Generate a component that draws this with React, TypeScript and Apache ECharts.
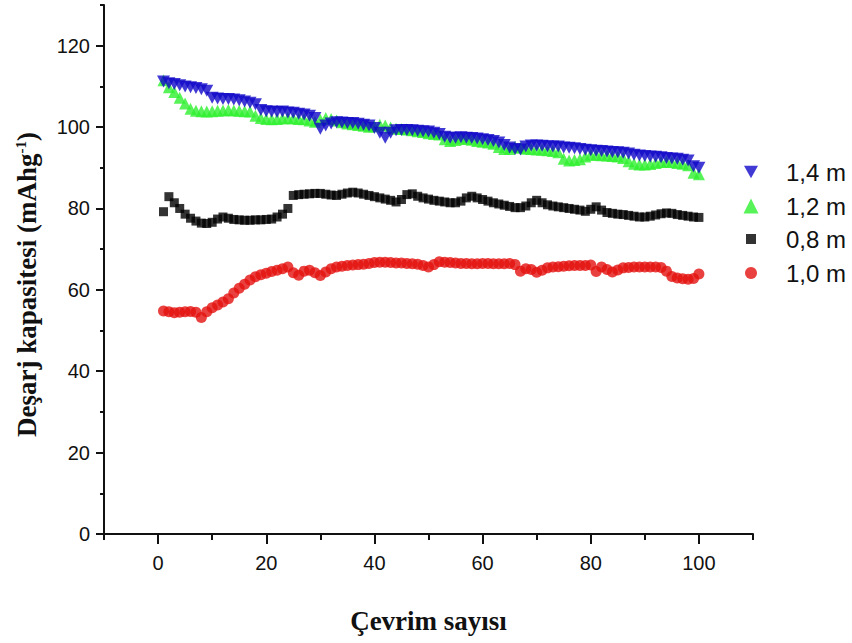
import React, { useEffect, useRef } from "react";
import * as echarts from "echarts";

// Cycle numbers shared by every series
const cycles: number[] = Array.from({ length: 100 }, (_, i) => i + 1);

// Discharge capacity (mAh g^-1) per cycle
const cap14: number[] = [
  111.2, 110.8, 110.6, 110.3, 110.0, 109.8, 109.6, 109.3, 108.9, 107.2,
  107.0, 106.9, 106.9, 106.8, 106.6, 106.3, 106.0, 105.6, 104.2, 103.9,
  103.8, 103.7, 103.8, 103.6, 103.5, 103.3, 103.1, 102.8, 102.2, 99.6,
  100.4, 100.9, 101.2, 101.1, 101.0, 101.0, 100.8, 100.6, 100.4, 99.8,
  98.6, 97.4, 98.6, 99.2, 99.3, 99.3, 99.2, 99.1, 99.0, 98.9,
  98.6, 98.3, 97.6, 97.4, 97.4, 97.5, 97.4, 97.3, 97.2, 97.0,
  96.8, 96.6, 96.2, 95.6, 95.0, 94.6, 94.5, 95.2, 95.5, 95.5,
  95.4, 95.3, 95.2, 95.2, 95.0, 94.9, 94.8, 94.6, 94.4, 94.3,
  94.2, 94.1, 94.0, 93.9, 93.8, 93.7, 93.5, 93.2, 93.0, 92.9,
  92.8, 92.7, 92.6, 92.4, 92.3, 92.2, 92.0, 91.8, 90.4, 90.0,
];

const cap12: number[] = [
  111.5, 109.8, 108.6, 107.2, 105.8, 104.5, 104.0, 103.9, 103.8, 103.9,
  104.0, 104.1, 104.2, 104.1, 104.0, 103.9, 103.8, 102.8, 102.2, 102.0,
  101.9, 102.0, 102.1, 102.2, 102.1, 102.0, 101.9, 101.6, 101.3, 101.8,
  102.2, 102.0, 101.6, 101.2, 100.9, 100.7, 100.5, 100.3, 100.1, 100.2,
  100.6, 100.4, 99.9, 99.6, 99.5, 99.4, 99.2, 99.0, 98.8, 98.5,
  98.3, 98.2, 97.0, 96.6, 96.8, 97.2, 97.1, 96.9, 96.6, 96.4,
  96.2, 95.9, 95.1, 94.6, 94.6, 95.1, 94.9, 94.7, 94.6, 94.5,
  94.4, 94.3, 94.1, 93.8, 92.2, 91.8, 91.9, 92.1, 92.8, 93.2,
  93.2, 93.1, 93.0, 92.9, 92.8, 92.4, 91.6, 91.0, 90.8, 90.8,
  90.9, 91.2, 91.4, 91.5, 91.4, 91.2, 91.0, 90.6, 88.8, 88.4,
];

const cap08: number[] = [
  79.2, 82.9, 81.4, 80.0, 78.6, 77.6, 76.9, 76.4, 76.3, 76.6,
  77.4, 77.9, 77.6, 77.3, 77.2, 77.1, 77.1, 77.2, 77.2, 77.3,
  77.4, 77.9, 78.6, 80.0, 83.2, 83.4, 83.5, 83.6, 83.7, 83.7,
  83.5, 83.3, 83.2, 83.5, 83.8, 84.0, 83.8, 83.5, 83.2, 82.9,
  82.6, 82.3, 82.0, 81.6, 82.2, 83.4, 83.6, 83.0, 82.6, 82.3,
  82.0, 81.8, 81.6, 81.4, 81.4, 81.8, 82.6, 83.0, 82.6, 82.2,
  81.8, 81.4, 81.1, 80.8, 80.5, 80.2, 80.2, 80.6, 81.4, 82.0,
  81.4, 80.9, 80.6, 80.4, 80.2, 80.0, 79.8, 79.6, 79.3, 79.8,
  80.4, 79.6, 79.0, 78.8, 78.6, 78.5, 78.3, 78.1, 77.9, 77.9,
  78.1, 78.4, 78.7, 78.9, 78.8, 78.5, 78.3, 78.1, 77.9, 77.8,
];

const cap10: number[] = [
  54.8, 54.6, 54.4, 54.5, 54.6, 54.7, 54.5, 53.2, 54.6, 55.6,
  56.3, 57.0, 57.8, 59.2, 60.4, 61.4, 62.4, 63.2, 63.7, 64.1,
  64.5, 64.8, 65.2, 65.6, 64.2, 63.6, 64.6, 64.8, 64.2, 63.5,
  64.4, 65.2, 65.6, 65.8, 66.0, 66.1, 66.2, 66.3, 66.5, 66.7,
  66.8, 66.8, 66.7, 66.6, 66.6, 66.5, 66.4, 66.3, 66.0, 65.6,
  66.2, 66.9, 66.8, 66.7, 66.6, 66.5, 66.5, 66.4, 66.4, 66.5,
  66.5, 66.4, 66.4, 66.4, 66.5, 66.2, 64.6, 65.2, 65.0, 64.3,
  64.8, 65.4, 65.6, 65.7, 65.8, 65.9, 66.0, 66.0, 66.0, 66.1,
  64.5, 65.6, 65.0, 64.4, 64.9, 65.4, 65.5, 65.6, 65.6, 65.6,
  65.6, 65.6, 65.5, 64.6, 63.3, 62.9, 62.7, 62.6, 62.8, 63.9,
];

// Labelled (major) and unlabelled (minor) tick positions
const xMajorTicks: number[] = [0, 20, 40, 60, 80, 100];
const xMinorTicks: number[] = [-10, 10, 30, 50, 70, 90, 110];
const yMajorTicks: number[] = [0, 20, 40, 60, 80, 100, 120];
const yMinorTicks: number[] = [10, 30, 50, 70, 90, 110, 130];

const seriesNames = ["1,4 m", "1,2 m", "0,8 m", "1,0 m"];

const DOWN_TRIANGLE = "path://M0,0L10,0L5,9Z";
const SANS = "Liberation Sans, Arial, sans-serif";
const SERIF = "Liberation Serif, Times New Roman, serif";
const INK = "#111111";

const pairs = (vals: number[]) => cycles.map((c, i) => [c, vals[i]]);

function legendRow(name: string, icon: string, size: number, centerY: number) {
  const left = 746 - size / 2;
  const textStart = 781;
  return {
    show: true,
    orient: "horizontal",
    left,
    top: centerY - 18,
    itemWidth: size,
    itemHeight: size,
    selectedMode: false,
    data: [{ name, icon }],
    textStyle: {
      fontFamily: SANS,
      fontSize: 24,
      color: INK,
      padding: [0, 0, 0, textStart - (left + size + 5)],
    },
  };
}

// An extra axis sharing the grid, used only to draw one set of tick marks
function tickAxis(min: number, max: number, position: string, values: number[], length: number) {
  return {
    type: "value",
    min,
    max,
    position,
    z: 10,
    splitLine: { show: false },
    axisLine: { show: false, onZero: false },
    axisTick: { show: true, length, customValues: values, lineStyle: { color: INK, width: 2 } },
    axisLabel: { show: false },
  };
}

export default function App() {
  const ref = useRef<HTMLDivElement>(null);

  useEffect(() => {
    const chart = echarts.init(ref.current!, null, { renderer: "svg" });

    chart.setOption({
      animation: false,
      backgroundColor: "#ffffff",
      grid: { left: 104, top: 5, right: 99, bottom: 109 },
      legend: [
        legendRow(seriesNames[0], DOWN_TRIANGLE, 14, 173),
        legendRow(seriesNames[1], "triangle", 15, 207),
        legendRow(seriesNames[2], "rect", 10, 240),
        legendRow(seriesNames[3], "circle", 12, 274),
      ],
      xAxis: [
        {
          type: "value",
          min: -10,
          max: 110,
          position: "bottom",
          splitLine: { show: false },
          axisLine: { show: true, onZero: false, lineStyle: { color: INK, width: 2 } },
          axisTick: { show: false },
          axisLabel: {
            show: true,
            customValues: xMajorTicks,
            margin: 19,
            fontFamily: SANS,
            fontSize: 20,
            color: INK,
          },
          name: "Çevrim sayısı",
          nameLocation: "middle",
          nameGap: 73,
          nameTextStyle: { fontFamily: SERIF, fontWeight: "bold", fontSize: 27, color: INK },
        },
        tickAxis(-10, 110, "bottom", xMinorTicks, 6),
        tickAxis(-10, 110, "bottom", xMajorTicks, 10),
      ],
      yAxis: [
        {
          type: "value",
          min: 0,
          max: 130,
          position: "left",
          splitLine: { show: false },
          axisLine: { show: true, onZero: false, lineStyle: { color: INK, width: 2 } },
          axisTick: { show: false },
          axisLabel: {
            show: true,
            customValues: yMajorTicks,
            margin: 14,
            fontFamily: SANS,
            fontSize: 20,
            color: INK,
          },
          name: "{t|Deşarj kapasitesi (mAhg}{s|-1}{t|)}",
          nameLocation: "middle",
          nameRotate: 90,
          nameGap: 63,
          nameTextStyle: {
            padding: [0, 30, 0, 0],
            rich: {
              t: { fontFamily: SERIF, fontWeight: "bold", fontSize: 27, color: INK, lineHeight: 28 },
              s: {
                fontFamily: SERIF,
                fontWeight: "bold",
                fontSize: 15,
                color: INK,
                verticalAlign: "top",
                lineHeight: 15,
              },
            },
          },
        },
        tickAxis(0, 130, "left", yMinorTicks, 4),
        tickAxis(0, 130, "left", yMajorTicks, 8),
      ],
      series: [
        {
          name: seriesNames[3],
          type: "scatter",
          xAxisIndex: 0,
          yAxisIndex: 0,
          symbol: "circle",
          symbolSize: 11,
          itemStyle: { color: "#e3120f" },
          data: pairs(cap10),
        },
        {
          name: seriesNames[2],
          type: "scatter",
          xAxisIndex: 0,
          yAxisIndex: 0,
          symbol: "rect",
          symbolSize: 9,
          itemStyle: { color: "#000000" },
          data: pairs(cap08),
        },
        {
          name: seriesNames[1],
          type: "scatter",
          xAxisIndex: 0,
          yAxisIndex: 0,
          symbol: "triangle",
          symbolSize: 12,
          itemStyle: { color: "#2ef02e" },
          data: pairs(cap12),
        },
        {
          name: seriesNames[0],
          type: "scatter",
          xAxisIndex: 0,
          yAxisIndex: 0,
          symbol: DOWN_TRIANGLE,
          symbolSize: [13, 12],
          itemStyle: { color: "#1008c8" },
          data: pairs(cap14),
        },
      ],
    });

    return () => chart.dispose();
  }, []);

  return (
    <div
      ref={ref}
      style={{ position: "fixed", left: 0, top: 0, width: 852, height: 643, background: "#fff" }}
    />
  );
}
